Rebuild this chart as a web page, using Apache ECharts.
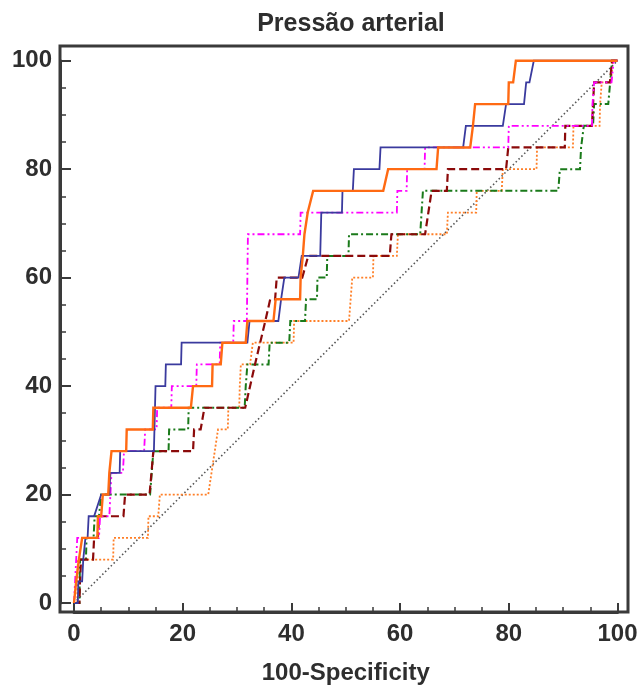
<!DOCTYPE html>
<html>
<head>
<meta charset="utf-8">
<script src="https://cdn.jsdelivr.net/npm/echarts@6/dist/echarts.min.js"></script>
<style>
  html, body { margin: 0; padding: 0; background: #ffffff; }
  #chart { width: 641px; height: 688px; }
</style>
</head>
<body>
<div id="chart"></div>
<script>
// ROC curves: [100 - specificity, sensitivity] step vertices, in percent
const chartTitle = 'Pressão arterial';
const xAxisName = '100-Specificity';

const curveBlue = [
  [0,0],[0.7,0],[0.8,4],[1.5,4],[1.7,8],[2.0,8],[2.1,12],[2.5,12],[2.7,16],[3.7,16],[5.0,20],
  [6.5,20],[6.7,24],[8.4,24],[8.5,28],[14.7,28],[15.0,40],[16.8,40],[16.9,44],[19.7,44],[19.8,48],
  [31.9,48],[32.3,52],[37.6,52],[38.1,56],[38.7,60],[41.3,60],[41.9,64],[45.3,64],[45.5,72],
  [49.3,72],[49.4,76],[51.3,76],[51.5,80],[56.2,80],[56.4,84],[71.6,84],[72.1,88],[78.9,88],
  [79.5,92],[82.8,92],[83.2,96],[83.8,96],[84.6,100],[100,100]
];
const curveOrange = [
  [0,0],[0.4,4],[0.9,8],[1.0,8],[1.5,12],[4.3,12],[4.4,16],[5.0,16],[5.3,20],[6.3,20],[6.5,24],
  [6.8,24],[6.9,28],[9.6,28],[9.7,32],[14.5,32],[14.6,36],[21.5,36],[21.9,40],[25.4,40],[25.5,44],
  [27.0,44],[27.3,48],[31.6,48],[31.9,52],[36.7,52],[37.1,56],[41.6,56],[41.7,60],[42.1,64],
  [42.4,68],[43.0,72],[44.0,76],[56.9,76],[57.8,80],[66.7,80],[67.0,84],[72.9,84],[73.4,88],
  [73.8,92],[79.9,92],[80.0,96],[80.8,96],[81.3,100],[100,100]
];
const curveMagenta = [
  [0,0],[0.2,4],[0.4,8],[0.6,12],[4.6,12],[4.8,16],[6.5,16],[6.7,20],[6.9,24],[9.0,24],[9.2,28],
  [12.9,28],[13.1,32],[15.2,32],[15.3,36],[17.9,36],[18.0,40],[22.5,40],[22.6,44],[26.8,44],
  [26.9,48],[29.3,48],[29.4,52],[31.8,52],[32.0,68],[41.6,68],[41.7,72],[59.4,72],[59.5,76],
  [61.2,76],[61.3,80],[64.5,80],[64.6,84],[79.9,84],[80.0,88],[95.3,88],[95.4,92],[95.7,96],
  [98.9,96],[99.3,100],[100,100]
];
const curveDarkRed = [
  [0,0],[1.0,0],[1.1,4],[1.3,8],[3.5,8],[3.7,12],[4.4,12],[4.6,16],[9.1,16],[9.4,20],[13.9,20],
  [14.6,28],[21.9,28],[22.1,32],[23.3,32],[24.0,36],[31.5,36],[33.3,44],[35.2,52],[36.1,56],
  [37.0,56],[37.3,60],[42.0,60],[43.1,64],[58.1,64],[58.4,68],[64.6,68],[65.8,76],[68.6,76],
  [68.8,80],[79.5,80],[79.9,84],[90.3,84],[90.4,88],[95.3,88],[95.7,96],[98.6,96],[99.0,100],
  [100,100]
];
const curveGreen = [
  [0,0],[1.0,0],[1.1,8],[2.2,8],[2.3,12],[3.6,12],[3.8,16],[4.6,16],[5.0,20],[14.0,20],[14.6,28],
  [17.4,28],[17.5,32],[21.0,32],[21.1,36],[31.4,36],[31.6,40],[31.9,44],[35.8,44],[36.0,48],
  [39.6,48],[39.8,52],[42.5,52],[42.7,56],[44.7,56],[44.8,60],[46.5,60],[46.6,64],[50.5,64],
  [50.6,68],[63.7,68],[64.2,76],[89.1,76],[89.4,80],[93.1,80],[93.3,84],[93.8,88],[95.5,88],
  [95.7,92],[98.3,92],[99.0,100],[100,100]
];
const curveOrangeDotted = [
  [0,0],[0.6,0],[0.7,8],[7.2,8],[7.3,12],[13.6,12],[13.7,16],[15.5,16],[15.8,20],[24.7,20],
  [25.3,24],[25.9,28],[26.5,32],[28.3,32],[28.4,36],[30.4,36],[30.5,40],[30.7,44],[32.4,44],
  [32.9,48],[40.4,48],[40.5,52],[50.6,52],[51.2,60],[55.0,60],[55.1,64],[59.4,64],[59.6,68],
  [68.6,68],[68.8,72],[74.0,72],[74.1,76],[78.7,76],[78.9,80],[85.1,80],[85.2,84],[91.8,84],
  [91.9,88],[96.7,88],[96.8,92],[97.1,96],[98.8,96],[99.1,100],[100,100]
];
const referenceLine = [[0,0],[100,100]];

const FONT = '"Liberation Sans", Arial, Helvetica, sans-serif';
const INK = '#2e2e2e';
const FRAME = '#3a3a3a';

function curve(name, data, color, width, dash, z) {
  return {
    name: name,
    type: 'line',
    data: data,
    showSymbol: false,
    symbol: 'none',
    clip: false,
    z: z,
    animation: false,
    lineStyle: { color: color, width: width, type: dash, cap: 'butt', join: 'miter' }
  };
}

const chart = echarts.init(document.getElementById('chart'), null, { renderer: 'canvas' });

chart.setOption({
  backgroundColor: '#ffffff',
  animation: false,
  title: {
    text: chartTitle,
    left: 346,
    textAlign: 'center',
    top: 7,
    textStyle: { fontFamily: FONT, fontSize: 25, fontWeight: 'bold', color: INK }
  },
  grid: {
    left: 74, right: 23.5, top: 60.7, bottom: 85,
    containLabel: false,
    outerBoundsMode: 'none'
  },
  xAxis: {
    type: 'value',
    min: 0, max: 100, interval: 20,
    offset: 9,
    name: xAxisName,
    nameLocation: 'middle',
    nameGap: 49,
    nameTextStyle: { fontFamily: FONT, fontSize: 24, fontWeight: 'bold', color: INK },
    axisLine: { show: true, onZero: false, lineStyle: { color: FRAME, width: 3 } },
    axisTick: { show: true, inside: true, length: 9, lineStyle: { color: FRAME, width: 2 } },
    minorTick: { show: true, splitNumber: 4, length: 5, lineStyle: { color: FRAME, width: 1.5 } },
    splitLine: { show: false },
    axisLabel: {
      margin: 10,
      fontFamily: FONT, fontSize: 24, fontWeight: 'bold', color: INK
    }
  },
  yAxis: {
    type: 'value',
    min: 0, max: 100, interval: 20,
    offset: 14,
    axisLine: { show: true, onZero: false, lineStyle: { color: FRAME, width: 3 } },
    axisTick: { show: true, inside: true, length: 11, lineStyle: { color: FRAME, width: 2 } },
    minorTick: { show: true, splitNumber: 4, length: 6, lineStyle: { color: FRAME, width: 1.5 } },
    splitLine: { show: false },
    axisLabel: {
      margin: 8,
      fontFamily: FONT, fontSize: 24, fontWeight: 'bold', color: INK
    }
  },
  graphic: [{
    type: 'rect',
    shape: { x: 60, y: 46, width: 568, height: 566 },
    style: { fill: 'none', stroke: FRAME, lineWidth: 3 },
    silent: true,
    z: 100
  }],
  series: [
    curve('Referência', referenceLine, '#555555', 1.6, [1.5, 2.5], 2),
    curve('C6', curveOrangeDotted, '#ff7f27', 1.8, [2, 2], 3),
    curve('C5', curveGreen, '#1a7a1a', 2, [7, 3, 2, 3], 4),
    curve('C4', curveDarkRed, '#8b0a0a', 2.2, [8, 4], 5),
    curve('C3', curveMagenta, '#ff00ff', 1.8, [7, 3, 2, 3, 2, 3], 6),
    curve('C1', curveBlue, '#3a3a9e', 1.8, 'solid', 7),
    curve('C2', curveOrange, '#ff6a13', 2.4, 'solid', 8)
  ]
});
</script>
</body>
</html>
